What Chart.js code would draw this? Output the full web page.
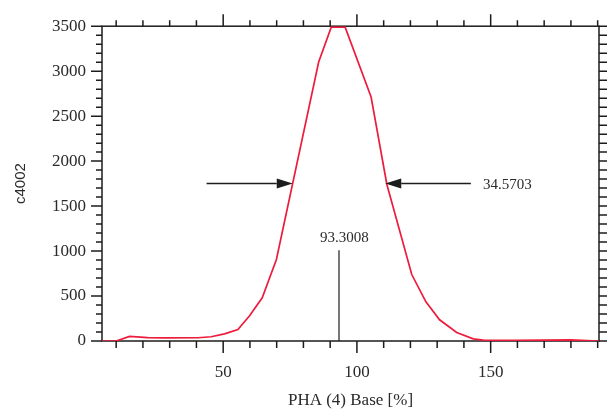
<!DOCTYPE html>
<html>
<head>
<meta charset="utf-8">
<script src="https://cdn.jsdelivr.net/npm/chart.js@4.4.1/dist/chart.umd.min.js"></script>
<style>
  html, body { margin: 0; padding: 0; background: #ffffff; }
  #wrap { width: 611px; height: 417px; }
</style>
</head>
<body>
<div id="wrap"><canvas id="c" width="611" height="417"></canvas></div>
<script>
// ---- data ----
const phaBase = [4.7, 10.0, 15.0, 21.8, 28.1, 40.6, 45.5, 50.5, 55.5, 59.8, 64.6, 69.9, 85.7, 90.4, 95.6, 105.3, 111.2, 120.5, 125.8, 130.9, 137.3, 143.5, 147.3, 159.8, 179.8, 190.4];
const counts  = [0, 0, 52, 37, 35, 36, 47, 79, 128, 277, 481, 907, 3102, 3490, 3490, 2713, 1740, 739, 435, 236, 94, 24, 9, 8, 13, 0];

const xLabelTicks = [50, 100, 150];
const xMinorTicks = [10, 20, 30, 40, 50, 60, 70, 80, 90, 100, 110, 120, 130, 140, 150, 160, 170, 180, 190];
const yLabelTicks = [0, 500, 1000, 1500, 2000, 2500, 3000, 3500];

const peakCenter = 93.3008;
const fwhm = 34.5703;
const halfMax = 1750;
const leftArrowTail = 43.8;
const rightArrowTail = 142.6;

const xMin = 4.7, xMax = 190.5, yMin = 0, yMax = 3500;

const serif = '"Liberation Serif", "Times New Roman", serif';

const yMinorTicks = [];
for (let v = yMin; v <= yMax; v += 100) yMinorTicks.push(v);

function arrow(ctx, x0, y0, x1, y1) {
  const dir = Math.sign(x1 - x0);
  const headLen = 16, headHalf = 5;
  ctx.beginPath();
  ctx.moveTo(x0, y0);
  ctx.lineTo(x1 - dir * headLen, y1);
  ctx.stroke();
  ctx.beginPath();
  ctx.moveTo(x1, y1);
  ctx.lineTo(x1 - dir * headLen, y1 - headHalf);
  ctx.lineTo(x1 - dir * headLen, y1 + headHalf);
  ctx.closePath();
  ctx.fill();
}

const framePlugin = {
  id: 'frame',
  beforeDatasetsDraw(chart) {
    const { ctx, chartArea: a, scales: { x, y } } = chart;
    ctx.save();
    ctx.strokeStyle = '#1c1c1c';
    ctx.lineWidth = 1.5;
    ctx.strokeRect(a.left, a.top, a.right - a.left, a.bottom - a.top);
    ctx.beginPath();
    xMinorTicks.forEach(v => {
      const px = x.getPixelForValue(v);
      const major = xLabelTicks.includes(v);
      ctx.moveTo(px, a.bottom); ctx.lineTo(px, a.bottom + (major ? 12 : 7));
      ctx.moveTo(px, a.top); ctx.lineTo(px, a.top - (major ? 12 : 6));
    });
    yMinorTicks.forEach(v => {
      const py = y.getPixelForValue(v);
      const major = yLabelTicks.includes(v);
      ctx.moveTo(a.left, py); ctx.lineTo(a.left - (major ? 11 : 6), py);
      ctx.moveTo(a.right, py); ctx.lineTo(a.right + 8, py);
    });
    ctx.stroke();
    ctx.restore();
  },
  afterDatasetsDraw(chart) {
    const { ctx, scales: { x, y } } = chart;
    ctx.save();
    ctx.strokeStyle = '#1c1c1c';
    ctx.fillStyle = '#1c1c1c';
    // centre marker
    ctx.lineWidth = 1.2;
    const cx = x.getPixelForValue(peakCenter);
    ctx.beginPath();
    ctx.moveTo(cx, y.getPixelForValue(0));
    ctx.lineTo(cx, y.getPixelForValue(1010));
    ctx.stroke();
    // FWHM arrows
    ctx.lineWidth = 1.5;
    const hy = y.getPixelForValue(halfMax);
    arrow(ctx, x.getPixelForValue(leftArrowTail), hy, x.getPixelForValue(peakCenter - fwhm / 2), hy);
    arrow(ctx, x.getPixelForValue(rightArrowTail), hy, x.getPixelForValue(peakCenter + fwhm / 2), hy);
    // labels
    ctx.font = '15px ' + serif;
    ctx.fillStyle = '#2a2a2a';
    ctx.textBaseline = 'middle';
    ctx.textAlign = 'center';
    ctx.fillText(peakCenter.toFixed(4), x.getPixelForValue(peakCenter + 2), y.getPixelForValue(1140));
    ctx.textAlign = 'left';
    ctx.fillText(fwhm.toFixed(4), x.getPixelForValue(147.1), y.getPixelForValue(1730));
    ctx.restore();
  }
};

const points = phaBase.map((v, i) => ({ x: v, y: counts[i] }));

new Chart(document.getElementById('c'), {
  type: 'scatter',
  data: {
    datasets: [{
      data: points,
      showLine: true,
      borderColor: '#ee1c3c',
      borderWidth: 1.7,
      pointRadius: 0,
      tension: 0,
      fill: false
    }]
  },
  options: {
    responsive: false,
    devicePixelRatio: 1,
    animation: false,
    layout: { padding: { top: 23, right: 12, left: 0, bottom: 0 } },
    plugins: { legend: { display: false }, tooltip: { enabled: false } },
    scales: {
      x: {
        type: 'linear',
        min: xMin, max: xMax,
        grid: { display: false, drawTicks: false },
        border: { display: false },
        afterBuildTicks: s => { s.ticks = xLabelTicks.map(v => ({ value: v })); },
        afterFit: s => { s.height = 76; },
        ticks: {
          padding: 21,
          color: '#2a2a2a',
          font: { family: serif, size: 17 },
          maxRotation: 0,
          callback: v => String(v)
        },
        title: {
          display: true,
          text: 'PHA (4) Base [%]',
          color: '#2a2a2a',
          font: { family: serif, size: 17 },
          padding: { top: 0, bottom: 6 }
        }
      },
      y: {
        type: 'linear',
        min: yMin, max: yMax,
        grid: { display: false, drawTicks: false },
        border: { display: false },
        afterBuildTicks: s => { s.ticks = yLabelTicks.map(v => ({ value: v })); },
        afterFit: s => { s.width = 102; },
        ticks: {
          padding: 16,
          color: '#2a2a2a',
          font: { family: serif, size: 17 },
          callback: v => String(v)
        },
        title: {
          display: true,
          text: 'c4002',
          color: '#2a2a2a',
          font: { family: '"Liberation Sans", Arial, sans-serif', size: 15 },
          padding: { top: 12, bottom: 0 }
        }
      }
    }
  },
  plugins: [framePlugin]
});
</script>
</body>
</html>
